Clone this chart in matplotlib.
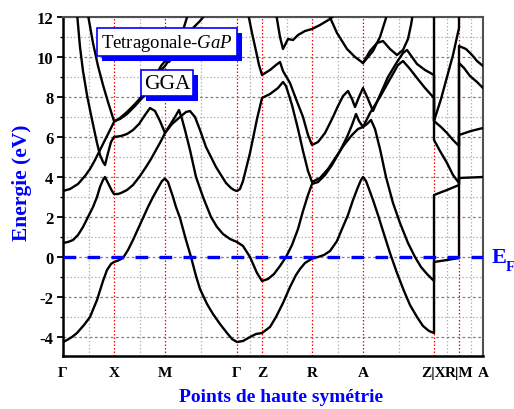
import matplotlib
matplotlib.use('Agg')
import matplotlib.pyplot as plt
from matplotlib import patheffects as pe
from matplotlib.ticker import MultipleLocator, FixedLocator

plt.rcParams['font.family'] = ['Liberation Serif', 'DejaVu Serif']
plt.rcParams['mathtext.fontset'] = 'custom'
plt.rcParams['mathtext.rm'] = 'Liberation Serif'
plt.rcParams['mathtext.it'] = 'Liberation Serif:italic'
plt.rcParams['mathtext.bf'] = 'Liberation Serif:bold'

# ---------------- data ----------------
kpath_pos = [0, 51, 102, 174, 199, 249, 300, 371, 396, 420]
kpath_labels = ['Γ', 'X', 'M', 'Γ', 'Z', 'R', 'A', 'Z|X', 'R|M', 'A']
energy_ticks = [-4, -2, 0, 2, 4, 6, 8, 10, 12]

band1_k = [0, 4, 9, 14, 21, 27, 34, 40, 44, 48, 51, 55, 60, 65, 70, 75, 80, 85, 90, 95, 99, 102,
           105, 110, 113, 117, 123, 128, 133, 137, 144, 150, 157, 164, 169, 174, 180, 187, 193, 199,
           207, 213, 220, 227, 233, 237, 242, 249, 255, 261, 267, 274, 279, 285, 290, 295, 298, 300,
           303, 306, 310, 315, 320, 327, 334, 341, 347, 354, 360, 366, 371, 371, 384, 396, 396, 420]
band1_E = [-4.25, -4.15, -4.0, -3.8, -3.4, -3.0, -2.15, -1.2, -0.65, -0.35, -0.25, -0.18, -0.05, 0.35,
           0.85, 1.4, 1.95, 2.5, 3.0, 3.45, 3.8, 3.92, 3.75, 3.0, 2.5, 1.95, 0.85, 0.0, -0.95, -1.6,
           -2.35, -2.85, -3.35, -3.8, -4.1, -4.25, -4.2, -4.0, -3.85, -3.8, -3.5, -3.0, -2.3, -1.5,
           -0.9, -0.6, -0.3, -0.08, 0.0, 0.1, 0.3, 0.8, 1.4, 2.1, 2.85, 3.5, 3.85, 4.0, 3.8, 3.4,
           2.85, 2.1, 1.3, 0.2, -0.8, -1.7, -2.4, -3.0, -3.45, -3.7, -3.8, -0.25, -0.15, -0.05,
           3.95, 4.0]

band2_k = [0, 5, 10, 15, 20, 25, 30, 34, 37, 40, 42, 44, 47, 49, 51, 55, 58, 64, 70, 77, 83, 88, 93,
           98, 102, 107, 112, 116, 119, 122, 127, 133, 140, 148, 154, 160, 167, 174, 180, 187, 194,
           199, 205, 211, 217, 223, 229, 235, 240, 245, 249, 255, 262, 269, 277, 284, 289, 293, 296,
           300, 304, 308, 312, 317, 323, 330, 337, 345, 352, 358, 364, 371, 371, 384, 396, 396, 408,
           420]
band2_E = [0.7, 0.75, 0.85, 1.1, 1.5, 2.0, 2.5, 3.0, 3.5, 3.85, 4.0, 3.8, 3.5, 3.3, 3.15, 3.15, 3.2,
           3.35, 3.6, 4.05, 4.5, 4.9, 5.35, 5.8, 6.2, 6.6, 7.0, 7.35, 6.9, 6.35, 5.35, 4.0, 3.0, 2.0,
           1.5, 1.15, 0.9, 0.75, 0.55, 0.0, -0.8, -1.2, -1.1, -0.85, -0.45, 0.0, 0.6, 1.4, 2.3, 3.1,
           3.65, 3.75, 4.1, 4.6, 5.3, 6.0, 6.6, 7.15, 6.8, 6.5, 6.65, 6.85, 6.4, 5.4, 4.0, 2.7, 1.7,
           0.7, 0.0, -0.5, -0.85, -1.2, 3.1, 3.35, 3.6, 6.1, 6.3, 6.45]

band3_k = [0, 7, 15, 22, 27, 32, 37, 42, 47, 51, 57, 64, 72, 80, 87, 93, 98, 102, 106, 111, 116, 121,
           126]
band3_E = [3.3, 3.4, 3.65, 4.05, 4.4, 4.85, 5.35, 5.85, 6.35, 6.75, 6.95, 7.25, 7.65, 8.1, 8.6, 9.1,
           9.55, 9.8, 9.75, 10.1, 10.7, 11.5, 12.3]

band4_k = [25, 30, 35, 40, 45, 51, 57, 64, 72, 80, 87, 93, 98, 102, 106, 111, 118, 127, 137, 145]
band4_E = [12.1, 10.7, 9.55, 8.6, 7.75, 6.8, 6.9, 7.15, 7.55, 8.0, 8.5, 9.0, 9.35, 9.55, 9.85, 10.3,
           10.8, 11.3, 11.8, 12.3]

band5_k = [14, 17, 20, 24, 27, 31, 34, 37, 40, 42, 45, 48, 51, 58, 64, 70, 76, 82, 87, 92, 97, 102,
           109, 117, 123, 127, 132, 137, 143, 148, 153, 158, 163, 168, 171, 174, 177, 180, 187, 194,
           199, 207, 215, 220, 223, 229, 235, 240, 245, 249, 257, 265, 273, 281, 289, 295, 300, 307,
           317, 327, 335, 340, 347, 354, 362, 371, 371, 377, 384, 390, 396, 396, 401, 407, 414, 420]
band5_E = [12.2, 10.5, 9.3, 8.1, 7.35, 6.4, 5.7, 5.1, 4.75, 4.6, 5.2, 5.75, 6.0, 6.05, 6.15, 6.35,
           6.65, 7.1, 7.45, 7.3, 6.8, 6.2, 6.65, 7.0, 7.25, 7.3, 7.0, 6.35, 5.5, 5.0, 4.5, 4.1, 3.7,
           3.45, 3.35, 3.3, 3.4, 3.8, 5.2, 6.9, 7.95, 8.15, 8.45, 8.75, 8.55, 7.6, 6.4, 5.3, 4.3,
           3.75, 3.95, 4.4, 5.0, 5.6, 6.1, 6.4, 6.5, 7.2, 8.0, 8.9, 9.6, 9.8, 9.4, 8.95, 8.45, 7.95,
           5.85, 5.3, 4.7, 4.1, 3.7, 9.7, 9.45, 9.05, 8.75, 8.45]

band6_k = [185, 189, 193, 196, 199, 207, 213, 217, 220, 227, 233, 240, 245, 249, 255, 262, 269, 275,
           280, 285, 289, 292, 296, 300, 305, 310, 317, 325, 334, 340, 344, 349, 354, 362, 371, 371,
           378, 384, 390, 396, 396, 403, 409, 414, 420]
band6_E = [12.2, 11.2, 10.3, 9.6, 9.1, 9.35, 9.6, 9.75, 9.3, 8.7, 7.9, 7.0, 6.1, 5.6, 5.75, 6.2, 6.9,
           7.55, 8.05, 8.3, 7.9, 7.5, 8.0, 8.45, 7.9, 7.3, 8.1, 9.0, 9.75, 10.2, 10.35, 10.0, 9.65,
           9.35, 9.1, 6.8, 6.5, 6.2, 5.85, 5.55, 10.55, 10.4, 10.1, 9.8, 9.55]

band7_k = [371, 371, 378, 384, 390, 396, 396]
band7_E = [12.5, 6.8, 7.9, 9.0, 10.1, 11.45, 12.5]

band8_k = [213, 217, 220, 225, 230, 235, 242, 249, 257, 267, 274]
band8_E = [12.2, 11.0, 10.4, 10.9, 10.85, 11.1, 11.3, 11.4, 11.6, 11.9, 12.2]

band9_k = [265, 274, 284, 292, 300, 307, 314, 320, 327, 334, 340, 345, 348, 350]
band9_E = [12.2, 11.2, 10.4, 10.0, 9.7, 10.3, 10.7, 10.8, 10.4, 10.1, 10.35, 10.9, 11.6, 12.2]

band10_k = [300, 310, 317, 324]
band10_E = [9.7, 10.3, 11.0, 12.1]

bands = [(band1_k, band1_E), (band2_k, band2_E), (band3_k, band3_E), (band4_k, band4_E),
         (band5_k, band5_E), (band6_k, band6_E), (band7_k, band7_E), (band8_k, band8_E),
         (band9_k, band9_E), (band10_k, band10_E)]

# ---------------- figure ----------------
fig = plt.figure(figsize=(5.14, 4.10), dpi=100)
ax = fig.add_axes([63 / 514, 53 / 410, 420 / 514, 339 / 410])

ax.set_xlim(kpath_pos[0], kpath_pos[-1])
ax.set_ylim(-4.95, 12)

# grid
ax.set_axisbelow(True)
ax.xaxis.set_major_locator(FixedLocator(kpath_pos))
mids = [(a + b) / 2 for a, b in zip(kpath_pos[:-1], kpath_pos[1:])]
ax.xaxis.set_minor_locator(FixedLocator(mids))
ax.yaxis.set_major_locator(FixedLocator(energy_ticks))
ax.yaxis.set_minor_locator(MultipleLocator(1))
ax.grid(which='major', axis='x', color='red', linestyle=(0, (1.2, 1.6)), linewidth=0.9)
ax.grid(which='minor', axis='x', color='#b5b5b5', linestyle=(0, (1.2, 1.6)), linewidth=0.9)
ax.grid(which='major', axis='y', color='#808080', linestyle=(0, (2.2, 2.0)), linewidth=0.9)
ax.grid(which='minor', axis='y', color='#b5b5b5', linestyle=(0, (1.2, 1.6)), linewidth=0.9)

for k, E in bands:
    ax.plot(k, E, color='black', linewidth=1.7, solid_joinstyle='round', zorder=3)

ax.axhline(0, color='#0000ff', linewidth=2.4, linestyle=(0, (3.8, 3.4)), zorder=4)

# ticks
ax.set_xticklabels(kpath_labels, fontweight='bold', fontsize=11)
ax.set_yticklabels([str(t) for t in energy_ticks], fontweight='bold', fontsize=12)
ax.tick_params(axis='x', which='both', length=0, pad=7)
ax.tick_params(axis='y', which='major', direction='out', length=4, width=1.3, pad=3)
ax.tick_params(axis='y', which='minor', direction='out', length=2.5, width=1.0)

for s in ['left', 'bottom']:
    ax.spines[s].set_linewidth(1.8)
    ax.spines[s].set_color('black')
for s in ['top', 'right']:
    ax.spines[s].set_linewidth(1.5)
    ax.spines[s].set_color('#505050')

# labels
fig.text(281 / 514, 0.0195, 'Points de haute symétrie', color='#0000ff', fontweight='bold',
         fontsize=14, ha='center', va='baseline')
fig.text(0.043, 0.555, 'Energie (eV)', color='#0000ff', fontweight='bold', fontsize=15.5,
         rotation=90, ha='center', va='center')
fig.text(492 / 514, 0.3585, 'E', color='#0000ff', fontweight='bold', fontsize=16, va='baseline')
fig.text(506 / 514, 0.339, 'F', color='#0000ff', fontweight='bold', fontsize=11, va='baseline')

# annotation boxes
shadow = [pe.withSimplePatchShadow(offset=(3.6, -3.6), shadow_rgbFace='#0000ff', alpha=1.0)]
t1 = ax.text(0.2476, 0.926, r'Tetragonale-$\mathit{GaP}$', transform=ax.transAxes, fontsize=13.5,
             ha='center', va='center', zorder=6,
             bbox=dict(boxstyle='square,pad=0.2', facecolor='white', edgecolor='#0000ff',
                       linewidth=1.2))
t1.get_bbox_patch().set_path_effects(shadow)
t2 = ax.text(0.2476, 0.805, 'GGA', transform=ax.transAxes, fontsize=15.5,
             ha='center', va='center', zorder=6,
             bbox=dict(boxstyle='square,pad=0.15', facecolor='white', edgecolor='#0000ff',
                       linewidth=1.2))
t2.get_bbox_patch().set_path_effects(shadow)

fig.savefig('out.png', dpi=100)
